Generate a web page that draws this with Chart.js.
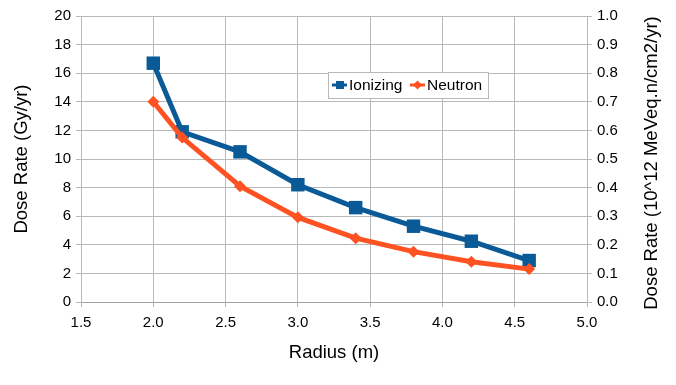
<!DOCTYPE html>
<html>
<head>
<meta charset="utf-8">
<script src="https://cdn.jsdelivr.net/npm/chart.js@4"></script>
<style>
  html, body { margin: 0; padding: 0; background: #fff; }
  #wrap { width: 676px; height: 385px; position: relative; }
</style>
</head>
<body>
<div id="wrap"><canvas id="chartDose"></canvas></div>
<script>
// data
const radius = [2.0, 2.2, 2.6, 3.0, 3.4, 3.8, 4.2, 4.6];
const ionizing = [16.7, 11.9, 10.5, 8.2, 6.6, 5.3, 4.25, 2.9];        // Gy/yr, left axis
const neutron = [0.70, 0.575, 0.405, 0.296, 0.223, 0.176, 0.141, 0.115]; // 10^12 MeVeq.n/cm2/yr, right axis
const seriesNames = ['Ionizing', 'Neutron'];
const rightTitle = 'Dose Rate (10^12 MeVeq.n/cm2/yr)';

const BLUE = '#0a5a98';
const ORANGE = '#ff5222';
const GRID = '#b8b8b8';
const FONT = "'Liberation Sans', Arial, sans-serif";
const TITLE_SIZE = 18.5;

// legend box inside the plot + right title reading bottom-to-top
const extras = {
  id: 'extras',
  afterDraw(chart) {
    const ctx = chart.ctx;
    const x = 328, y = 72, w = 160, h = 26;
    ctx.save();
    ctx.fillStyle = '#fff';
    ctx.fillRect(x, y, w, h);
    ctx.strokeStyle = GRID;
    ctx.lineWidth = 1;
    ctx.strokeRect(x + 0.5, y + 0.5, w, h);
    const cy = y + h / 2;
    ctx.font = '15.5px ' + FONT;
    ctx.textBaseline = 'middle';
    // ionizing
    ctx.strokeStyle = BLUE; ctx.lineWidth = 3;
    ctx.beginPath(); ctx.moveTo(332, cy); ctx.lineTo(347, cy); ctx.stroke();
    ctx.fillStyle = BLUE; ctx.fillRect(336, cy - 4, 8, 8);
    ctx.fillStyle = '#000'; ctx.fillText(seriesNames[0], 349, cy + 1);
    // neutron
    ctx.strokeStyle = ORANGE; ctx.lineWidth = 3;
    ctx.beginPath(); ctx.moveTo(410, cy); ctx.lineTo(425, cy); ctx.stroke();
    ctx.fillStyle = ORANGE;
    ctx.beginPath();
    ctx.moveTo(417.5, cy - 4.5); ctx.lineTo(422, cy); ctx.lineTo(417.5, cy + 4.5); ctx.lineTo(413, cy);
    ctx.closePath(); ctx.fill();
    ctx.fillStyle = '#000'; ctx.fillText(seriesNames[1], 427, cy + 1);

    // right axis title
    const area = chart.chartArea;
    ctx.translate(652, (area.top + area.bottom) / 2 + 4);
    ctx.rotate(-Math.PI / 2);
    ctx.textAlign = 'center';
    ctx.font = TITLE_SIZE + 'px ' + FONT;
    ctx.fillStyle = '#000';
    ctx.fillText(rightTitle, 0, 0);
    ctx.restore();
  }
};

new Chart(document.getElementById('chartDose'), {
  type: 'line',
  data: {
    datasets: [
      {
        label: seriesNames[1],
        data: radius.map((r, i) => ({ x: r, y: neutron[i] })),
        yAxisID: 'y1',
        borderColor: ORANGE,
        backgroundColor: ORANGE,
        borderWidth: 5,
        pointStyle: 'rectRot',
        pointRadius: 6,
        pointBorderWidth: 0,
        tension: 0
      },
      {
        label: seriesNames[0],
        data: radius.map((r, i) => ({ x: r, y: ionizing[i] })),
        yAxisID: 'y',
        borderColor: BLUE,
        backgroundColor: BLUE,
        borderWidth: 5,
        pointStyle: 'rect',
        pointRadius: 9.5,
        pointBorderWidth: 0,
        tension: 0
      }
    ]
  },
  options: {
    responsive: true,
    maintainAspectRatio: false,
    animation: false,
    layout: { padding: { top: 16, left: 0, right: 0, bottom: 0 } },
    plugins: {
      legend: { display: false },
      tooltip: { enabled: false }
    },
    scales: {
      x: {
        type: 'linear',
        min: 1.5, max: 5.0,
        ticks: { stepSize: 0.5, color: '#000', font: { family: FONT, size: 15 }, padding: 7,
          callback: v => v.toFixed(1) },
        grid: { color: GRID, tickLength: 5 },
        border: { color: '#a0a0a0' },
        title: { display: true, text: 'Radius (m)', color: '#000', font: { family: FONT, size: TITLE_SIZE }, padding: { top: 21, bottom: 21 } },
        afterFit: s => { s.height = 83; }
      },
      y: {
        position: 'left',
        min: 0, max: 20,
        ticks: { stepSize: 2, color: '#000', font: { family: FONT, size: 15 }, padding: 5 },
        grid: { color: GRID, tickLength: 5 },
        border: { color: GRID },
        title: { display: true, text: 'Dose Rate (Gy/yr)', color: '#000', font: { family: FONT, size: TITLE_SIZE }, padding: { top: 11, bottom: 11 } },
        afterFit: s => { s.width = 81; }
      },
      y1: {
        position: 'right',
        min: 0, max: 1,
        ticks: { stepSize: 0.1, color: '#000', font: { family: FONT, size: 15 }, padding: 5,
          callback: v => v.toFixed(1) },
        grid: { drawOnChartArea: false, color: GRID, tickLength: 5 },
        border: { color: GRID },
        title: { display: false },
        afterFit: s => { s.width = 89; }
      }
    }
  },
  plugins: [extras]
});
</script>
</body>
</html>
